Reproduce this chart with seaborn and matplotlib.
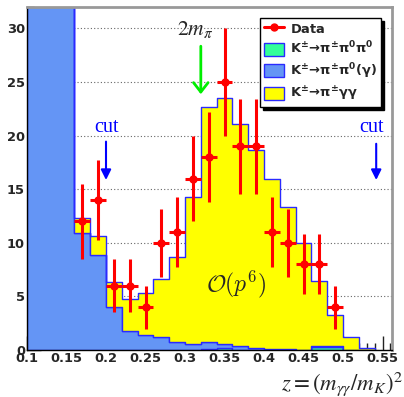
import numpy as np
import pandas as pd
import matplotlib
matplotlib.use("Agg")
import matplotlib.pyplot as plt
import seaborn as sns
from matplotlib.lines import Line2D
from matplotlib.patches import Patch
from matplotlib.ticker import MultipleLocator

# ---------------- data ----------------
bin_centers = [0.11, 0.13, 0.15, 0.17, 0.19, 0.21, 0.23, 0.25, 0.27, 0.29, 0.31,
               0.33, 0.35, 0.37, 0.39, 0.41, 0.43, 0.45, 0.47, 0.49, 0.51, 0.53]
mc_3pi = [0, 0, 0, 0, 0, 0, 0, 0, 0, 0, 0,
          0.1, 0.2, 0, 0, 0, 0, 0, 0.3, 0.3, 0, 0]
mc_2pi_gamma = [200, 150, 100, 10.9, 8.85, 4.0, 1.75, 1.4, 1.2, 0.75, 0.6,
                0.6, 0.4, 0.35, 0.2, 0.1, 0.1, 0.0, 0.05, 0.05, 0, 0]
mc_pigg = [0, 0, 0, 1.4, 1.75, 2.35, 3.0, 3.9, 5.4, 7.9, 13.7,
           22.0, 22.9, 20.75, 18.5, 15.9, 13.2, 10.0, 6.05, 2.95, 1.2, 0.15]

data_z = [0.17, 0.19, 0.21, 0.23, 0.25, 0.27, 0.29, 0.31, 0.33, 0.35, 0.37,
          0.39, 0.41, 0.43, 0.45, 0.47, 0.49]
data_counts = [12, 14, 6, 6, 4, 10, 11, 16, 18, 25, 19, 19, 11, 10, 8, 8, 4]
data_errors = [3.5, 3.7, 2.45, 2.45, 2.0, 3.2, 3.3, 4.0, 4.2, 5.0, 4.4,
               4.4, 3.3, 3.2, 2.8, 2.8, 2.0]
bin_width = 0.02
hist_range = (0.10, 0.54)

x_tick_labels = ["0.1", "0.15", "0.2", "0.25", "0.3", "0.35", "0.4", "0.45", "0.5", "0.55"]
y_ticks = [0, 5, 10, 15, 20, 25, 30]

lab_3pi = r"$\mathbf{K^{\pm}\!\rightarrow\!\pi^{\pm}\pi^{0}\pi^{0}}$"
lab_2pig = r"$\mathbf{K^{\pm}\!\rightarrow\!\pi^{\pm}\pi^{0}(\gamma)}$"
lab_pigg = r"$\mathbf{K^{\pm}\!\rightarrow\!\pi^{\pm}\gamma\gamma}$"

col_3pi = "#33ff99"
col_2pig = "#6495f5"
col_pigg = "#ffff00"
edge_col = "#2a2aff"

# ---------------- figure ----------------
sns.set_style("ticks")
plt.rcParams["font.family"] = ["DejaVu Sans"]

fig = plt.figure(figsize=(4.04, 3.97), dpi=100)
ax = fig.add_axes([27 / 404, 1 - 350 / 397, 365 / 404, 343 / 397])

rows = []
for name, vals in [(lab_pigg, mc_pigg), (lab_2pig, mc_2pi_gamma), (lab_3pi, mc_3pi)]:
    for c, v in zip(bin_centers, vals):
        rows.append({"z": c, "w": v, "comp": name})
df = pd.DataFrame(rows)

sns.histplot(data=df, x="z", weights="w", hue="comp",
             hue_order=[lab_pigg, lab_2pig, lab_3pi],
             palette={lab_pigg: col_pigg, lab_2pig: col_2pig, lab_3pi: col_3pi},
             multiple="stack", binwidth=bin_width, binrange=hist_range,
             element="step", fill=True,
             alpha=1, edgecolor=edge_col, linewidth=1.0, legend=False, ax=ax)

ax.errorbar(data_z, data_counts, yerr=data_errors, xerr=bin_width / 2,
            fmt="o", color="red", ms=5, elinewidth=2.2, capsize=0, zorder=6)

ax.set_xlim(0.1, 0.562)
ax.set_ylim(0, 32)
ax.set_xlabel("")
ax.set_ylabel("")

ax.set_xticks([float(t) for t in x_tick_labels], labels=x_tick_labels)
ax.set_yticks(y_ticks, labels=[str(t) for t in y_ticks])
ax.xaxis.set_minor_locator(MultipleLocator(0.01))
ax.yaxis.set_minor_locator(MultipleLocator(1))
ax.tick_params(which="major", direction="in", length=10, width=1, labelsize=9.4,
               pad=1.5, color="#222222")
ax.tick_params(which="minor", direction="in", length=5, width=1, color="#222222")
for lbl in ax.get_xticklabels() + ax.get_yticklabels():
    lbl.set_fontweight("bold")

ax.yaxis.grid(True, which="major", linestyle=(0, (1, 2)), color="#666666", lw=0.8)
ax.xaxis.grid(False)
ax.set_axisbelow(True)

for s in ["top", "right"]:
    ax.spines[s].set_color("#999999")
    ax.spines[s].set_linewidth(2)
for s in ["left", "bottom"]:
    ax.spines[s].set_color("black")
    ax.spines[s].set_linewidth(1)

# annotations
ax.annotate("", xy=(0.2, 15.6), xytext=(0.2, 19.7),
            arrowprops=dict(arrowstyle="-|>,head_length=0.6,head_width=0.3",
                            color="blue", lw=1.5, mutation_scale=10), zorder=7)
ax.annotate("", xy=(0.542, 15.6), xytext=(0.542, 19.5),
            arrowprops=dict(arrowstyle="-|>,head_length=0.6,head_width=0.3",
                            color="blue", lw=1.5, mutation_scale=10), zorder=7)
ax.text(0.2, 20.8, "cut", color="blue", fontsize=14.5, family="Liberation Serif",
        ha="center", va="center")
ax.text(0.536, 20.8, "cut", color="blue", fontsize=14.5, family="Liberation Serif",
        ha="center", va="center")
ax.annotate("", xy=(0.32, 23.6), xytext=(0.32, 28.6),
            arrowprops=dict(arrowstyle="->,head_length=0.45,head_width=0.35",
                            color="#00ee00", lw=2, mutation_scale=15), zorder=7)
ax.text(0.313, 29.9, r"$2m_{\pi}$", math_fontfamily="stix", fontsize=15.5,
        ha="center", va="center")
ax.text(0.364, 6.15, r"$\mathcal{O}(p^6)$", math_fontfamily="cm", fontsize=17,
        ha="center", va="center", zorder=7)

fig.text(0.997, 0.018, r"$z = (m_{\gamma\gamma}/m_K)^2$", math_fontfamily="stix",
         fontsize=16.5, ha="right", va="baseline")

handles = [
    Line2D([0], [0], color="red", lw=2.2, marker="o", ms=5),
    Patch(facecolor=col_3pi, edgecolor=edge_col, lw=1),
    Patch(facecolor=col_2pig, edgecolor=edge_col, lw=1),
    Patch(facecolor=col_pigg, edgecolor=edge_col, lw=1),
]
labels = [r"$\mathbf{Data}$", lab_3pi, lab_2pig, lab_pigg]
leg = ax.legend(handles, labels, loc="upper left", bbox_to_anchor=(0.638, 0.968),
                borderaxespad=0, fancybox=False, edgecolor="black", framealpha=1,
                shadow={"color": "black", "alpha": 1}, fontsize=9.4,
                handlelength=1.6, handleheight=1.2, labelspacing=0.33,
                handletextpad=0.45, borderpad=0.28)
leg.get_frame().set_linewidth(1)

fig.savefig("out.png", dpi=100)
